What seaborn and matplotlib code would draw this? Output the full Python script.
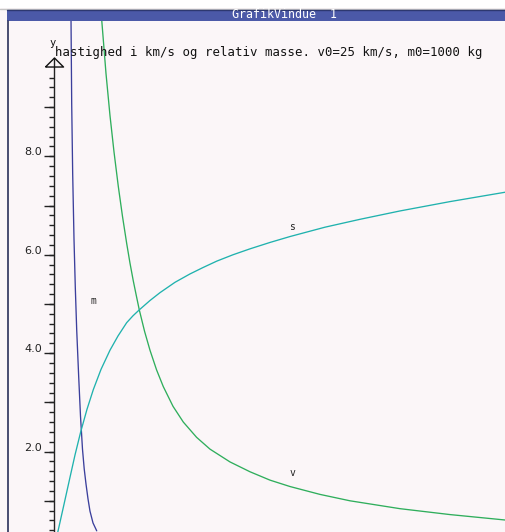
import numpy as np
import pandas as pd
import matplotlib
matplotlib.use("Agg")
from matplotlib import pyplot as plt
from matplotlib.patches import Rectangle
from matplotlib.lines import Line2D
import seaborn as sns

# curve data (t in arbitrary units, y-axis at t=0)
m_t = [0.388, 0.403, 0.425, 0.454, 0.483, 0.514, 0.558, 0.598, 0.642, 0.680,
       0.720, 0.764, 0.808, 0.875, 0.957]
m_val = [10.77, 9.07, 7.64, 6.32, 5.33, 4.47, 3.52, 2.72, 2.05, 1.65,
         1.34, 1.04, 0.79, 0.55, 0.39]

v_t = [1.068, 1.163, 1.251, 1.340, 1.435, 1.528, 1.621, 1.694, 1.767, 1.834,
       1.900, 2.018, 2.137, 2.283, 2.432, 2.647, 2.875, 3.169, 3.466, 3.909,
       4.352, 4.795, 5.238, 5.903, 6.567, 7.674, 8.782, 10.0]
v_val = [10.77, 9.68, 8.83, 8.09, 7.39, 6.78, 6.23, 5.83, 5.47, 5.17,
         4.88, 4.44, 4.06, 3.66, 3.32, 2.92, 2.60, 2.29, 2.05, 1.79,
         1.59, 1.42, 1.29, 1.13, 1.00, 0.84, 0.72, 0.61]

s_t = [0.089, 0.233, 0.366, 0.476, 0.602, 0.742, 0.882, 1.052, 1.251, 1.429,
       1.621, 1.761, 1.900, 2.137, 2.359, 2.691, 3.023, 3.311, 3.615, 3.976,
       4.352, 4.795, 5.238, 6.013, 6.788, 7.674, 8.782, 10.0]
s_val = [0.34, 0.93, 1.48, 1.93, 2.40, 2.86, 3.26, 3.67, 4.06, 4.35,
         4.62, 4.76, 4.88, 5.07, 5.23, 5.44, 5.61, 5.74, 5.87, 6.00,
         6.12, 6.25, 6.37, 6.56, 6.72, 6.89, 7.08, 7.27]

tick_labels = ["2.0", "4.0", "6.0", "8.0"]
tick_vals = [2.0, 4.0, 6.0, 8.0]

title = "hastighed i km/s og relativ masse. v0=25 km/s, m0=1000 kg"
window_title = "GrafikVindue  1"

sns.set_style("white")
plt.rcParams["font.family"] = ["DejaVu Sans"]

bg = "#fbf6f8"
W, H = 505, 532
fig = plt.figure(figsize=(W / 100, H / 100), dpi=100, facecolor=bg)

# window chrome
fig.patches.append(Rectangle((0, 1 - 8 / H), 1, 8 / H, transform=fig.transFigure,
                             facecolor="white", edgecolor="none", zorder=0))
fig.lines.append(Line2D([0, 1], [1 - 8.5 / H] * 2, transform=fig.transFigure,
                        color="#c4c4c4", lw=1))
fig.patches.append(Rectangle((7 / W, 1 - 21 / H), 1, 12 / H, transform=fig.transFigure,
                             facecolor="#4b59a8", edgecolor="none", zorder=1))
fig.lines.append(Line2D([7 / W, 1], [1 - 9.5 / H] * 2, transform=fig.transFigure,
                        color="#2d3870", lw=1, zorder=2))
fig.text(284 / W, 1 - 15 / H, window_title, color="white", ha="center", va="center",
         fontsize=8.4, family="DejaVu Sans Mono")
fig.lines.append(Line2D([7.5 / W] * 2, [0, 1 - 21 / H], transform=fig.transFigure,
                        color="#2a2f5a", lw=1.2))

ax = fig.add_axes([8 / W, 0, (W - 8) / W, (H - 21) / H])
ax.set_facecolor(bg)
ax.axis("off")

px_unit = 45.15
ax.set_xlim(-(53.5 - 8) / px_unit, 10.0)
ax.set_ylim(0.366, 10.75)

sns.lineplot(x=m_t, y=m_val, ax=ax, color="#3b3f9c", lw=0.95, sort=False)
sns.lineplot(x=v_t, y=v_val, ax=ax, color="#2fae5c", lw=0.95, sort=False)
sns.lineplot(x=s_t, y=s_val, ax=ax, color="#20b2ae", lw=0.95, sort=False)
ax.axis("off")
ax.add_patch(Rectangle((0, 0), 1, 1, transform=ax.transAxes, facecolor=bg,
                       edgecolor="none", zorder=-5))

# y-axis drawn by hand at t=0, ticks every 0.2, longer ones at whole numbers
ax.plot([0, 0], [0.3, 10.0], color="#222222", lw=1.0, solid_capstyle="butt")
minor = np.round(np.arange(0.4, 9.7, 0.2), 1)
whole = minor[np.isclose(minor, np.round(minor))]
ax.hlines(minor, -5 / px_unit, 0, color="#222222", lw=1.0)
ax.hlines(whole, -10 / px_unit, 0, color="#222222", lw=1.0)

for lab, val in zip(tick_labels, tick_vals):
    ax.text(-0.25, val - 0.02, lab, ha="right", va="bottom", fontsize=8, color="#222222")

# arrow head and axis name
ax.plot([0], [9.91], marker=[(-1, -0.5), (1, -0.5), (0, 0.5), (-1, -0.5)],
        markersize=13, markerfacecolor="none", markeredgecolor="#111111",
        markeredgewidth=1.0, clip_on=False)
ax.text(-0.03, 10.2, "y", ha="center", va="bottom", fontsize=7.5,
        family="DejaVu Sans Mono", color="#111111")
ax.text(0.04, 10.04, title, ha="left", va="baseline", fontsize=8.9,
        family="DejaVu Sans Mono", color="#111111")

# curve names
ax.text(0.82, 5.0, "m", fontsize=7, family="DejaVu Sans Mono", color="#222222")
ax.text(5.22, 6.5, "s", fontsize=7, family="DejaVu Sans Mono", color="#222222")
ax.text(5.22, 1.5, "v", fontsize=7, family="DejaVu Sans Mono", color="#222222")

plt.savefig("out.png", dpi=100, facecolor=bg)
